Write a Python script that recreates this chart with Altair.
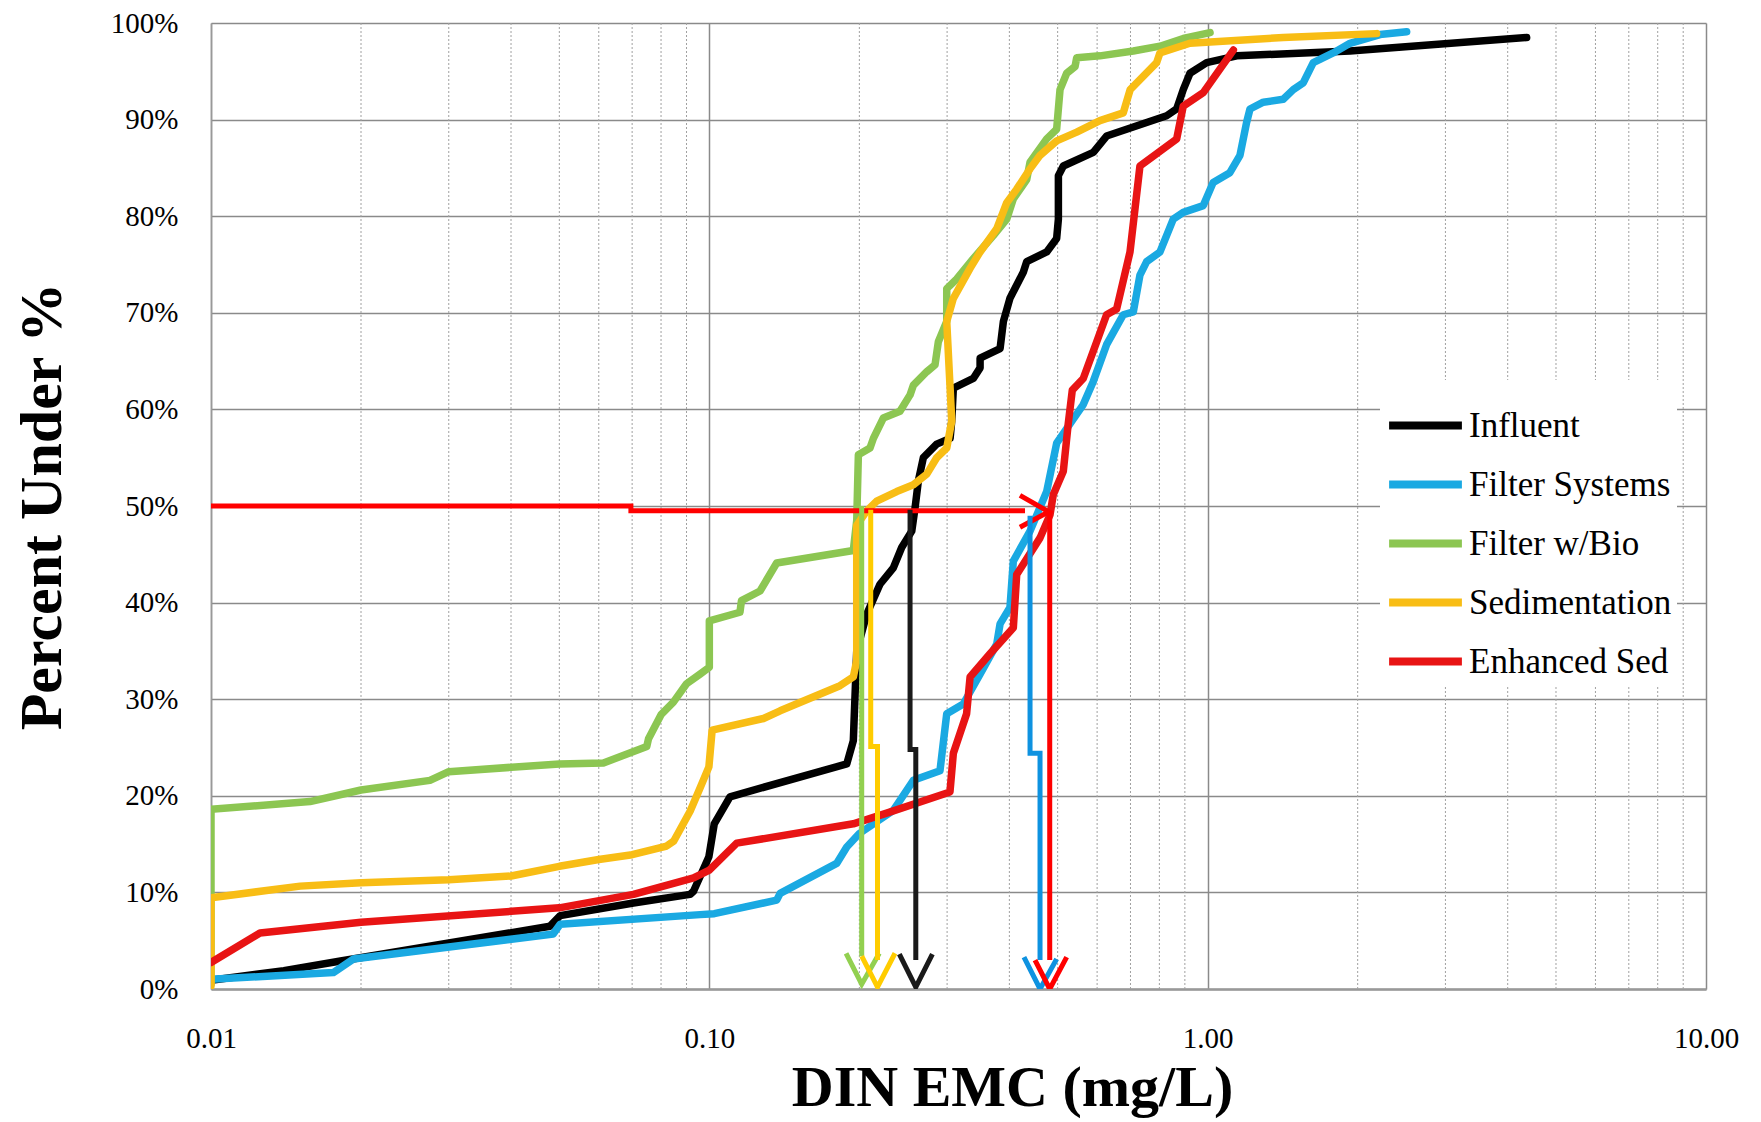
import altair as alt
import pandas as pd

# ---------------- data ----------------
series_names = ["Influent", "Filter Systems", "Filter w/Bio", "Sedimentation", "Enhanced Sed"]

inf_x = [0.01, 0.014, 0.0182, 0.0479, 0.0502, 0.0704, 0.0915, 0.0929, 0.0998, 0.1023, 0.110,
         0.1887, 0.1945, 0.1976, 0.2069, 0.2200, 0.2340, 0.2432, 0.2548, 0.2587, 0.2627, 0.2688,
         0.2859, 0.3042, 0.3065, 0.3088, 0.3386, 0.3494, 0.3494, 0.3832, 0.3891, 0.4011, 0.4266,
         0.4334, 0.4753, 0.4977, 0.5017, 0.5017, 0.5133, 0.5895, 0.6268, 0.8274, 0.8665, 0.8933,
         0.9215, 0.9954, 1.1436, 1.930, 4.366]
inf_y = [0.9, 1.9, 2.9, 6.5, 7.6, 8.9, 9.8, 10.1, 13.7, 17.1, 19.9, 23.3, 25.7, 35.0, 38.8, 41.9,
         43.6, 45.7, 47.4, 49.8, 52.6, 55.0, 56.4, 57.0, 58.8, 62.2, 63.2, 64.3, 65.3, 66.3, 69.1,
         71.5, 74.2, 75.3, 76.3, 77.7, 79.7, 84.2, 85.2, 86.6, 88.3, 90.4, 91.1, 93.1, 94.8, 95.9,
         96.6, 97.1, 98.5]

fs_x = [0.01, 0.0176, 0.0193, 0.0486, 0.0502, 0.0958, 0.1023, 0.1365, 0.1387, 0.1801, 0.1887, 0.2,
        0.234, 0.2567, 0.2903, 0.2995, 0.3233, 0.3494, 0.3773, 0.3832, 0.4011, 0.4074, 0.4401,
        0.4753, 0.4977, 0.5628, 0.5895, 0.6268, 0.677, 0.7093, 0.7313, 0.7543, 0.8023, 0.853,
        0.8933, 0.9799, 1.026, 1.108, 1.161, 1.197, 1.216, 1.293, 1.418, 1.485, 1.555, 1.629,
        1.786, 1.930, 2.217, 2.508]
fs_y = [1.0, 1.7, 3.1, 5.7, 6.7, 7.7, 7.8, 9.2, 9.9, 13.0, 14.7, 16.1, 18.5, 21.6, 22.6, 28.5,
        29.5, 32.6, 35.7, 37.8, 39.5, 44.3, 47.4, 51.5, 56.5, 60.5, 62.9, 66.7, 69.8, 70.1, 73.9,
        75.3, 76.3, 79.7, 80.4, 81.1, 83.5, 84.5, 86.3, 89.7, 91.1, 91.8, 92.1, 93.1, 93.8, 95.9,
        96.9, 97.9, 98.8, 99.1]

fb_x = [0.01, 0.01, 0.0158, 0.02, 0.0275, 0.03, 0.05, 0.0613, 0.0749, 0.0755, 0.08, 0.0847, 0.09,
        0.0958, 0.1, 0.1, 0.1152, 0.116, 0.1264, 0.1365, 0.1945, 0.1976, 0.1991, 0.2101, 0.2134,
        0.2234, 0.2413, 0.2528, 0.2567, 0.2731, 0.2837, 0.2881, 0.2995, 0.2995, 0.3137, 0.3386,
        0.3714, 0.3952, 0.4074, 0.4334, 0.4401, 0.4753, 0.4977, 0.5055, 0.5213, 0.5419, 0.546,
        0.6079, 0.7093, 0.8023, 0.8933, 1.011]
fb_y = [0.5, 18.6, 19.4, 20.6, 21.6, 22.5, 23.3, 23.4, 25.1, 25.9, 28.4, 29.7, 31.6, 32.6, 33.3,
        38.1, 39.0, 40.2, 41.2, 44.1, 45.4, 48.5, 55.3, 56.0, 57.0, 59.1, 59.8, 61.5, 62.5, 63.9,
        64.6, 67.0, 69.1, 72.5, 73.5, 75.6, 78.0, 79.7, 81.8, 83.8, 85.6, 88.0, 89.0, 93.1, 94.8,
        95.5, 96.4, 96.6, 97.1, 97.6, 98.4, 99.0]

sed_x = [0.01, 0.01, 0.0151, 0.02, 0.03, 0.04, 0.05, 0.06, 0.07, 0.0821, 0.0848, 0.0915, 0.0958,
         0.0998, 0.1013, 0.1284, 0.1387, 0.1829, 0.1945, 0.1976, 0.1976, 0.2069, 0.2167, 0.2377,
         0.2567, 0.2731, 0.2859, 0.2995, 0.3065, 0.3042, 0.2995, 0.3088, 0.3336, 0.3494, 0.3773,
         0.3952, 0.4138, 0.4401, 0.4609, 0.4977, 0.546, 0.6079, 0.677, 0.699, 0.790, 0.802, 0.921,
         1.418, 2.183]
sed_y = [0.3, 9.45, 10.65, 11.0, 11.3, 11.7, 12.7, 13.4, 13.9, 14.8, 15.3, 18.4, 20.8, 23.0, 26.8,
         28.0, 28.8, 31.4, 32.3, 34.0, 48.0, 49.5, 50.5, 51.5, 52.2, 53.3, 55.0, 56.0, 58.8, 62.2,
         69.1, 71.5, 74.6, 76.3, 78.7, 81.4, 82.8, 84.9, 86.3, 87.8, 88.7, 89.9, 90.7, 93.1, 95.9,
         96.9, 97.9, 98.5, 98.9]

es_x = [0.01, 0.01254, 0.02, 0.05, 0.0704, 0.093, 0.1, 0.1135, 0.1945, 0.2269, 0.304, 0.3088,
        0.3283, 0.3336, 0.3658, 0.4074, 0.4138, 0.4609, 0.4827, 0.4901, 0.5133, 0.525, 0.535,
        0.5628, 0.5989, 0.6268, 0.6567, 0.6985, 0.7313, 0.8665, 0.8933, 0.9799, 1.126]
es_y = [2.75, 5.8, 6.9, 8.4, 9.8, 11.5, 12.3, 15.1, 17.1, 18.2, 20.4, 24.4, 28.5, 32.3, 34.7, 37.4,
        42.9, 46.7, 49.1, 51.2, 53.6, 58.5, 62.0, 63.2, 67.0, 69.8, 70.4, 76.3, 85.2, 88.0, 91.4,
        92.8, 97.2]

# annotation guides (median read-outs), in data units
guide_h_x = [0.01, 0.0696, 0.0696, 0.430]
guide_h_y = [50.0, 50.0, 49.5, 49.5]
guide_h_head_x = [0.4201, 0.48, 0.4201]
guide_h_head_y = [51.1, 49.4, 47.8]
drop_green_x = [0.2022, 0.2022]
drop_green_y = [50.0, 3.4]
head_green_x = [0.1881, 0.2022, 0.2193]
head_green_y = [3.7, 0.5, 3.7]
drop_yellow_x = [0.2108, 0.2108, 0.2175, 0.2175]
drop_yellow_y = [49.6, 25.1, 25.1, 3.0]
head_yellow_x = [0.2022, 0.2175, 0.2358]
head_yellow_y = [3.4, 0.2, 3.7]
drop_black_x = [0.2528, 0.2528, 0.2596, 0.2596]
drop_black_y = [49.6, 24.8, 24.8, 3.0]
head_black_x = [0.2406, 0.2596, 0.2803]
head_black_y = [3.6, 0.2, 3.6]
drop_blue_x = [0.4401, 0.4401, 0.4609, 0.4609]
drop_blue_y = [49.0, 24.4, 24.4, 3.0]
head_blue_x = [0.4279, 0.4609, 0.4977]
head_blue_y = [3.3, 0.0, 3.1]
drop_red_x = [0.4820, 0.4820]
drop_red_y = [49.4, 3.0]
head_red_x = [0.4503, 0.4820, 0.5213]
head_red_y = [3.0, 0.0, 3.3]

minor_ticks = [0.02, 0.03, 0.04, 0.05, 0.06, 0.07, 0.08, 0.09,
               0.2, 0.3, 0.4, 0.5, 0.6, 0.7, 0.8, 0.9,
               2, 3, 4, 5, 6, 7, 8, 9]
x_tick_values = [0.01, 0.1, 1, 10]
y_tick_values = [0, 10, 20, 30, 40, 50, 60, 70, 80, 90, 100]

# ---------------- tables ----------------
series_x = [inf_x, fs_x, fb_x, sed_x, es_x]
series_y = [inf_y, fs_y, fb_y, sed_y, es_y]
rows = []
for name, xs, ys in zip(series_names, series_x, series_y):
    for i, (a, b) in enumerate(zip(xs, ys)):
        rows.append({"series": name, "idx": i, "x": a, "y": b})
curves = pd.DataFrame(rows)

guides = {
    "guide_h": (guide_h_x, guide_h_y),
    "guide_h_head": (guide_h_head_x, guide_h_head_y),
    "drop_green": (drop_green_x, drop_green_y),
    "head_green": (head_green_x, head_green_y),
    "drop_yellow": (drop_yellow_x, drop_yellow_y),
    "head_yellow": (head_yellow_x, head_yellow_y),
    "drop_black": (drop_black_x, drop_black_y),
    "head_black": (head_black_x, head_black_y),
    "drop_blue": (drop_blue_x, drop_blue_y),
    "head_blue": (head_blue_x, head_blue_y),
    "drop_red": (drop_red_x, drop_red_y),
    "head_red": (head_red_x, head_red_y),
}
grows = []
for part, (xs, ys) in guides.items():
    for i, (a, b) in enumerate(zip(xs, ys)):
        grows.append({"part": part, "idx": i, "x": a, "y": b})
guide_df = pd.DataFrame(grows)
minor_df = pd.DataFrame({"v": minor_ticks})

# ---------------- styling ----------------
series_colors = ["#000000", "#1AA9E2", "#8CC652", "#F8BD15", "#E81414"]
guide_colors = {
    "guide_h": "#FF0000", "guide_h_head": "#FF0000",
    "drop_green": "#92D050", "head_green": "#92D050",
    "drop_yellow": "#FFCC00", "head_yellow": "#FFCC00",
    "drop_black": "#1A1A1A", "head_black": "#1A1A1A",
    "drop_blue": "#0E92E0", "head_blue": "#0E92E0",
    "drop_red": "#FF0000", "head_red": "#FF0000",
}
SERIF = "Liberation Serif"
GRID = "#8A8A8A"

x_scale = alt.Scale(type="log", domain=[0.01, 10], nice=False)
y_scale = alt.Scale(domain=[0, 100], nice=False, zero=False)
color_scale = alt.Scale(domain=series_names, range=series_colors)

x_axis = alt.Axis(values=x_tick_values, format=".2f", title="DIN EMC (mg/L)",
                  grid=True, gridColor=GRID, gridWidth=1.5, ticks=False,
                  domainColor="#999999", domainWidth=2.5, labelFlush=False,
                  labelFont=SERIF, labelFontSize=29, labelColor="#000000", labelPadding=35,
                  titleFont=SERIF, titleFontSize=58, titleFontWeight="bold", titleColor="#000000",
                  titleX=801, titleY=116, titleAlign="center", titleBaseline="alphabetic")
y_axis = alt.Axis(values=y_tick_values, labelExpr="datum.value + '%'", title="Percent Under %",
                  grid=True, gridColor=GRID, gridWidth=1.5, ticks=False,
                  domainColor="#999999", domainWidth=1.5,
                  labelFont=SERIF, labelFontSize=29, labelColor="#000000", labelPadding=33,
                  titleFont=SERIF, titleFontSize=60, titleFontWeight="bold", titleColor="#000000",
                  titleAngle=270, titleX=-169, titleY=483, titleAlign="center",
                  titleBaseline="middle")

legend = alt.Legend(title=None, orient="none", legendX=1169, legendY=357,
                    fillColor="white", padding=5, symbolType="stroke",
                    symbolStrokeWidth=8, symbolSize=5300, labelFont=SERIF,
                    labelFontSize=35, labelColor="#000000", labelOffset=3, rowPadding=0,
                    labelLimit=0)

minor_layer = alt.Chart(minor_df).mark_rule(color="#A0A0A0", strokeDash=[2, 2], strokeWidth=1).encode(
    x=alt.X("v:Q", scale=x_scale, axis=x_axis)
)

layers = [minor_layer]
for k, name in enumerate(series_names):
    layers.append(
        alt.Chart(curves).transform_filter(alt.datum.series == name)
        .mark_line(strokeWidth=7.5, strokeCap="round", strokeJoin="round", clip=True)
        .encode(
            x=alt.X("x:Q", scale=x_scale, axis=x_axis),
            y=alt.Y("y:Q", scale=y_scale, axis=y_axis),
            color=alt.Color("series:N", scale=color_scale, legend=legend),
            order=alt.Order("idx:Q"),
        )
    )

for part, col in guide_colors.items():
    layers.append(
        alt.Chart(guide_df).transform_filter(alt.datum.part == part)
        .mark_line(color=col, strokeWidth=5, strokeCap="butt", strokeJoin="miter", clip=True)
        .encode(
            x=alt.X("x:Q", scale=x_scale, axis=x_axis),
            y=alt.Y("y:Q", scale=y_scale, axis=y_axis),
            order=alt.Order("idx:Q"),
        )
    )

chart = alt.layer(*layers).properties(
    width=1495, height=966,
    autosize=alt.AutoSizeParams(type="none"),
    padding={"left": 203, "top": 15, "right": 47, "bottom": 133},
    background="white",
).configure_view(stroke=None)

chart.save("out.html", embed_options={"renderer": "svg", "actions": False})
